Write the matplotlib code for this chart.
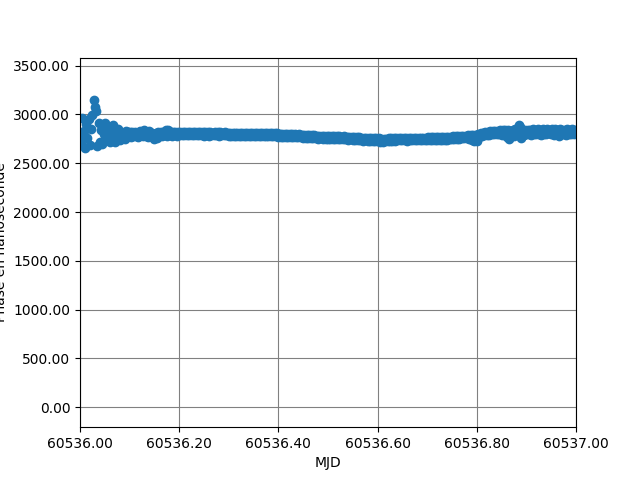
import numpy as np
import matplotlib
matplotlib.use("Agg")
import matplotlib.pyplot as plt
from matplotlib.ticker import FormatStrFormatter, MultipleLocator

# Start of the MJD day and sampling step (days)
mjd_start = 60536.0
step = 0.0025

# Phase values (ns), one per sample, 20 samples per row
phase = [
    2780, 2700, 2960, 2830, 2660, 2900, 2760, 2950, 2690, 2850,
    2990, 3150, 3080, 3040, 2680, 2910, 2720, 2840, 2700, 2800,
    2910, 2740, 2870, 2790, 2720, 2860, 2760, 2890, 2715, 2830,
    2770, 2850, 2740, 2820, 2780, 2810, 2750, 2830, 2770, 2815,
    2820, 2770, 2815, 2775, 2825, 2780, 2810, 2770, 2830, 2785,
    2815, 2775, 2840, 2780, 2820, 2770, 2835, 2785, 2810, 2775,
    2745, 2810, 2760, 2820, 2775, 2815, 2780, 2825, 2790, 2845,
    2780, 2840, 2785, 2815, 2780, 2820, 2785, 2815, 2780, 2818,
    2786, 2818, 2788, 2816, 2785, 2820, 2790, 2815, 2787, 2818,
    2789, 2816, 2786, 2819, 2790, 2815, 2787, 2817, 2788, 2816,
    2784, 2816, 2786, 2815, 2783, 2817, 2787, 2814, 2785, 2816,
    2786, 2815, 2784, 2816, 2787, 2813, 2785, 2815, 2786, 2814,
    2781, 2813, 2783, 2812, 2780, 2814, 2784, 2811, 2782, 2813,
    2783, 2812, 2781, 2813, 2784, 2810, 2782, 2812, 2783, 2811,
    2776, 2808, 2778, 2807, 2775, 2809, 2779, 2806, 2777, 2808,
    2778, 2806, 2776, 2808, 2779, 2805, 2776, 2807, 2777, 2806,
    2770, 2802, 2772, 2800, 2768, 2801, 2771, 2798, 2768, 2799,
    2769, 2796, 2766, 2797, 2768, 2794, 2764, 2795, 2766, 2792,
    2758, 2789, 2760, 2788, 2756, 2787, 2758, 2785, 2755, 2786,
    2756, 2783, 2753, 2784, 2755, 2781, 2752, 2782, 2753, 2780,
    2748, 2778, 2750, 2777, 2746, 2779, 2748, 2775, 2745, 2776,
    2747, 2773, 2744, 2774, 2746, 2771, 2743, 2772, 2744, 2770,
    2736, 2766, 2738, 2765, 2734, 2764, 2735, 2762, 2732, 2763,
    2734, 2760, 2731, 2761, 2732, 2758, 2729, 2759, 2731, 2757,
    2724, 2754, 2720, 2752, 2722, 2750, 2726, 2753, 2728, 2755,
    2730, 2756, 2731, 2757, 2732, 2758, 2733, 2758, 2733, 2759,
    2733, 2760, 2734, 2759, 2732, 2761, 2734, 2760, 2733, 2762,
    2735, 2761, 2733, 2762, 2735, 2761, 2734, 2763, 2736, 2762,
    2736, 2764, 2738, 2765, 2737, 2766, 2739, 2767, 2738, 2768,
    2740, 2768, 2741, 2770, 2742, 2771, 2743, 2772, 2744, 2773,
    2746, 2775, 2748, 2777, 2750, 2779, 2752, 2781, 2754, 2782,
    2755, 2784, 2757, 2786, 2750, 2788, 2740, 2790, 2732, 2792,
    2728, 2796, 2772, 2805, 2780, 2812, 2786, 2818, 2790, 2822,
    2794, 2826, 2797, 2830, 2798, 2832, 2800, 2835, 2798, 2836,
    2790, 2838, 2798, 2840, 2770, 2836, 2752, 2832, 2795, 2842,
    2780, 2848, 2796, 2860, 2890, 2875, 2760, 2838, 2790, 2842,
    2798, 2845, 2802, 2840, 2788, 2848, 2800, 2842, 2795, 2846,
    2803, 2840, 2792, 2850, 2800, 2843, 2797, 2846, 2805, 2840,
    2800, 2848, 2790, 2852, 2803, 2842, 2782, 2848, 2798, 2845,
    2802, 2840, 2788, 2850, 2800, 2842, 2795, 2846, 2803, 2838,
    2815,
]

# Sample times (regular sampling)
mjd = mjd_start + np.arange(len(phase)) * step

fig, ax = plt.subplots(figsize=(6.4, 4.8), dpi=100)
ax.plot(mjd, phase, 'o')

ax.set_xlim(60536.0, 60537.0)
ax.set_ylim(-204, 3582)
ax.xaxis.set_major_locator(MultipleLocator(0.2))
ax.yaxis.set_major_locator(MultipleLocator(500))
ax.xaxis.set_major_formatter(FormatStrFormatter('%.2f'))
ax.yaxis.set_major_formatter(FormatStrFormatter('%.2f'))
ax.grid(True, color='gray')

ax.set_xlabel('MJD')
ax.set_ylabel('Phase en nanoseconde')

fig.savefig('out.png')
